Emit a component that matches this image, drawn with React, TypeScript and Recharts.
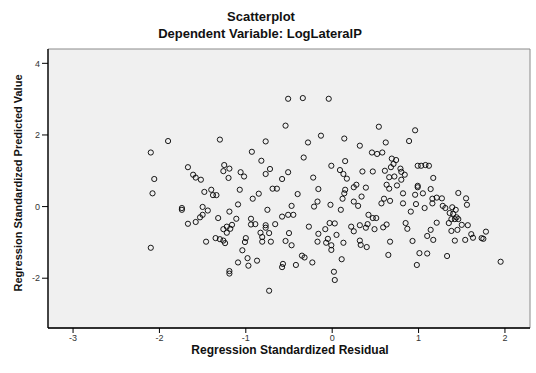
import { ScatterChart, Scatter, XAxis, YAxis, ReferenceArea } from 'recharts';

const residual = [
  -1.9, -2.1, -1.3, -0.77, -0.93, -0.82, -0.72, -0.77, -1.67, -1.61, -1.58, -1.52, -1.25, -1.19, -1.26, -1.06,
  -1.02, -1.2, -2.06, -2.08, -1.48, -1.4, -1.38, -1.34, -1.07, -0.92, -0.85, -0.69, -0.64, -1.74, -1.74, -1.5,
  -1.44, -1.5, -1.53, -1.58, -1.67, -1.32, -1.19, -1.09, -1.11, -0.75, -0.94, -0.94, -0.89, -0.77, -0.77, -0.66,
  -1.16, -1.22, -1.26, -1.18, -1.22, -1.35, -1.3, -1.26, -1.24, -1.46, -1.0, -1.01, -0.83, -0.73, -0.81, -0.81,
  -0.71, -1.04, -2.1, -0.98, -1.09, -0.97, -0.87, -1.19, -1.19, -0.73, -0.51, -0.34, -0.04, -0.54, 0.54, 0.96,
  -0.13, -0.28, 0.14, 0.89, 0.62, 0.32, 0.46, 0.52, 0.58, -0.33, 0.15, 0.69, 0.74, 0.71, -0.01, 0.09,
  0.13, 0.17, 0.35, 0.47, 0.61, 0.68, 0.79, 0.8, 0.84, 0.66, 0.72, 0.8, 0.99, 1.03, 1.08, 1.12,
  1.17, -0.51, -0.58, -0.22, -0.16, -0.4, 0.15, 0.14, 0.25, 0.28, 0.39, 0.34, 0.12, 0.63, 0.66, 0.75,
  0.82, 0.99, 0.99, 1.05, 0.96, 1.14, 1.16, 1.21, 1.27, 1.46, 1.55, 0.6, -0.47, -0.51, -0.45, -0.58,
  -0.21, -0.17, -0.02, 0.1, 0.25, 0.3, 0.57, 0.67, 0.82, 0.97, 0.91, 1.07, 1.16, 1.28, 1.31, 1.39,
  1.43, 1.36, 1.4, 1.44, 1.46, 1.42, 1.38, 1.35, 1.56, 1.5, 1.57, 1.45, 1.38, 1.21, 0.85, 0.87,
  1.14, 1.1, 1.17, 0.93, 1.42, 1.54, 1.61, 1.63, 1.73, 1.75, 1.78, 0.67, 0.63, 0.59, 0.49, 0.41,
  0.39, 0.32, 0.25, 0.22, 0.42, 0.47, 0.51, -0.03, 0.03, -0.08, 0.05, -0.05, -0.07, -0.01, -0.01, -0.17,
  -0.16, 0.13, 0.32, 0.33, 0.4, -0.27, -0.5, -0.54, -0.47, -0.35, -0.32, -0.23, -0.42, -0.57, -0.58, 0.11,
  0.02, 0.03, 0.65, 1.01, 1.1, 1.33, 0.98, 1.95,
];

const predicted = [
  1.83, 1.51, 1.87, 1.82, 1.53, 1.28, 1.05, 0.91, 1.1, 0.89, 0.81, 0.75, 1.16, 1.06, 0.99, 0.96,
  0.84, 0.8, 0.77, 0.37, 0.41, 0.47, 0.32, 0.32, 0.47, 0.22, 0.36, 0.5, 0.5, -0.04, -0.09, -0.01,
  -0.11, -0.23, -0.3, -0.43, -0.48, -0.32, -0.14, 0.06, -0.34, -0.09, -0.34, -0.5, -0.49, -0.52, -0.59, -0.49,
  -0.51, -0.56, -0.63, -0.62, -0.73, -0.88, -0.91, -0.95, -1.02, -0.98, -0.88, -0.99, -0.73, -0.74, -0.85, -0.98,
  -0.98, -1.22, -1.15, -1.44, -1.56, -1.65, -1.51, -1.8, -1.87, -2.35, 3.01, 3.03, 3.01, 2.26, 2.23, 2.13,
  1.98, 1.79, 1.9, 1.83, 1.79, 1.7, 1.51, 1.47, 1.51, 1.37, 1.27, 1.34, 1.3, 1.19, 1.14, 1.02,
  0.91, 0.78, 0.98, 0.98, 1.0, 1.1, 1.06, 0.97, 0.89, 0.82, 0.84, 0.75, 1.14, 1.14, 1.16, 1.14,
  0.8, 0.96, 0.77, 0.81, 0.49, 0.35, 0.47, 0.37, 0.54, 0.61, 0.53, 0.28, 0.22, 0.61, 0.5, 0.59,
  0.37, 0.58, 0.54, 0.37, 0.33, 0.49, 0.22, 0.25, 0.23, 0.38, 0.23, 0.22, 0.02, -0.23, -0.23, -0.28,
  0.0, 0.14, 0.05, -0.09, 0.14, 0.02, 0.09, 0.16, 0.09, 0.07, -0.14, -0.04, 0.09, 0.02, -0.04, -0.02,
  -0.09, -0.18, -0.2, -0.3, -0.35, -0.35, -0.35, -0.46, 0.05, -0.51, -0.52, -0.65, -0.68, -0.45, -0.46, -0.62,
  -0.65, -0.82, -0.93, -0.96, -0.95, -0.93, -0.77, -0.87, -0.88, -0.9, -0.7, -0.98, -0.5, -0.58, -0.63, -0.49,
  -0.59, -0.52, -0.69, -0.56, -0.23, -0.32, -0.32, -0.46, -0.47, -0.63, -0.79, -0.9, -1.01, -1.08, -1.21, -0.98,
  -0.76, -1.01, -0.95, -1.07, -1.13, -0.56, -0.74, -0.96, -1.08, -1.37, -1.42, -1.56, -1.63, -1.6, -1.69, -1.47,
  -1.82, -2.05, -1.35, -1.3, -1.31, -1.38, -1.63, -1.54,
];

const xTicks = [-3, -2, -1, 0, 1, 2];
const yTicks = [-2, 0, 2, 4];
const xDomain = [-3.29, 2.29];
const yDomain = [-3.39, 4.4];

const data = residual.map((x, i) => ({ x, y: predicted[i] }));

const FONT = '"Liberation Sans", Arial, sans-serif';

const HollowDot = (props: any) => (
  <circle cx={props.cx} cy={props.cy} r={2.6} fill="none" stroke="#000" strokeWidth={0.9} />
);

export default function App() {
  return (
    <div style={{ position: 'absolute', left: 0, top: 0, width: 536, height: 373, background: '#fff', fontFamily: FONT }}>
      <ScatterChart width={536} height={373} margin={{ top: 49, right: 6, bottom: 0, left: 0 }}>
        <ReferenceArea
          x1={xDomain[0]}
          x2={xDomain[1]}
          y1={yDomain[0]}
          y2={yDomain[1]}
          fill="#f0f0f0"
          fillOpacity={1}
          stroke="#8a8a8a"
          strokeWidth={1}
        />
        <XAxis
          type="number"
          dataKey="x"
          domain={xDomain}
          ticks={xTicks}
          allowDataOverflow
          height={45}
          tickSize={5}
          tickMargin={2}
          axisLine={{ stroke: '#000', strokeWidth: 1.3 }}
          tickLine={{ stroke: '#000' }}
          tick={{ fill: '#333', fontSize: 9, fontFamily: FONT }}
        />
        <YAxis
          type="number"
          dataKey="y"
          domain={yDomain}
          ticks={yTicks}
          allowDataOverflow
          width={48}
          tickSize={6}
          tickMargin={2}
          axisLine={{ stroke: '#000', strokeWidth: 1.3 }}
          tickLine={{ stroke: '#000' }}
          tick={{ fill: '#333', fontSize: 9, fontFamily: FONT }}
        />
        <Scatter data={data} shape={HollowDot} isAnimationActive={false} />
      </ScatterChart>
      <svg width={536} height={373} style={{ position: 'absolute', left: 0, top: 0, pointerEvents: 'none' }}>
        <text x={261} y={21} textAnchor="middle" fontSize={13} fontWeight="bold" fill="#111" fontFamily={FONT}>
          Scatterplot
        </text>
        <text x={260} y={38} textAnchor="middle" fontSize={13} fontWeight="bold" fill="#111" fontFamily={FONT}>
          Dependent Variable: LogLateralP
        </text>
        <text x={290} y={354} textAnchor="middle" fontSize={12} fontWeight="bold" fill="#111" fontFamily={FONT}>
          Regression Standardized Residual
        </text>
        <text
          x={0}
          y={0}
          transform="translate(22,183) rotate(-90)"
          textAnchor="middle"
          fontSize={11}
          fontWeight="bold"
          fill="#111"
          fontFamily={FONT}
        >
          Regression Standardized Predicted Value
        </text>
      </svg>
    </div>
  );
}
